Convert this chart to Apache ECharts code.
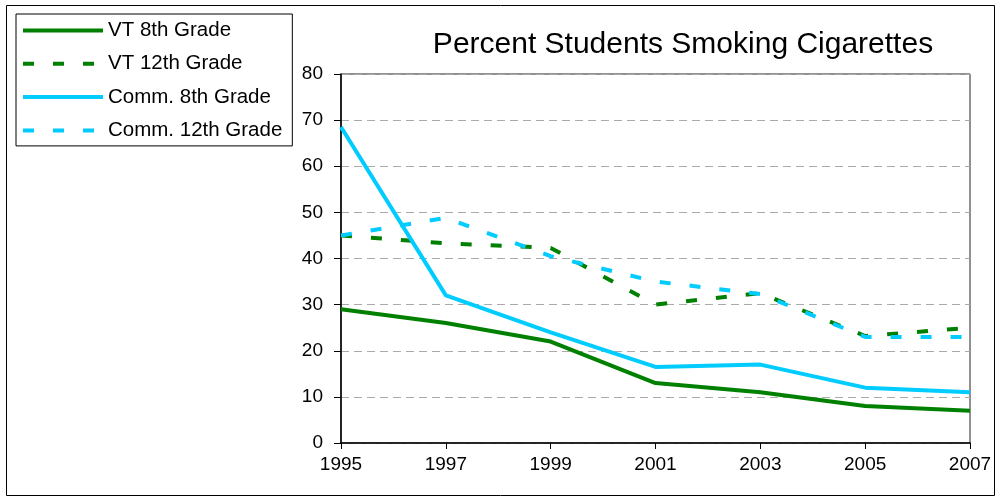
<!DOCTYPE html>
<html><head><meta charset="utf-8">
<script src="https://cdn.jsdelivr.net/npm/echarts@6/dist/echarts.min.js"></script>
<style>html,body{margin:0;padding:0;background:#fff}#c{width:1000px;height:503px}</style>
</head><body><div id="c"></div>
<script>
const years = ['1995','1997','1999','2001','2003','2005','2007'];
const vt8 = [29, 26, 22, 13, 11, 8, 7];
const vt12 = [45, 43.3, 42.3, 30, 32.5, 23.2, 25];
const comm8 = [68.5, 32, 24, 16.5, 17, 12, 11];
const comm12 = [45, 48.8, 40.5, 35, 32.3, 23, 23];
const yTicks = [0, 10, 20, 30, 40, 50, 60, 70, 80];

const green = '#008000', cyan = '#00CCFF';
const font = 'Liberation Sans, Arial, sans-serif';
function s(name, data, color, dashed) {
  return {name, type: 'line', data, symbol: 'none', smooth: false,
    lineStyle: {color, width: 4, type: dashed ? [11, 19] : 'solid', cap: 'butt'},
    itemStyle: {color}};
}
const chart = echarts.init(document.getElementById('c'), null, {renderer: 'canvas'});
chart.setOption({
  animation: false,
  textStyle: {fontFamily: font},
  title: {text: 'Percent Students Smoking Cigarettes', left: 678, top: 25, textAlign: 'center',
    textStyle: {fontSize: 30, fontWeight: 'normal', color: '#000', fontFamily: font}},
  graphic: [{type: 'rect', shape: {x: 6.5, y: 5.5, width: 988, height: 490},
    style: {fill: 'none', stroke: '#000', lineWidth: 1}, z: 100}],
  legend: {orient: 'vertical', left: 16, top: 14, itemWidth: 80, itemHeight: 20, itemGap: 12.3,
    padding: [6, 10, 5, 5], borderColor: '#000', borderWidth: 1,
    itemStyle: {opacity: 0},
    lineStyle: {width: 4},
    textStyle: {fontSize: 20.5, lineHeight: 20, color: '#000', fontFamily: font},
    data: ['VT 8th Grade', 'VT 12th Grade', 'Comm. 8th Grade', 'Comm. 12th Grade']},
  grid: {left: 341, right: 30, top: 74, bottom: 60, show: true, borderColor: '#222', borderWidth: 1},
  xAxis: {type: 'category', data: years, boundaryGap: false,
    axisLine: {lineStyle: {color: '#000', width: 1.5}},
    axisTick: {show: true, length: 6, lineStyle: {color: '#000'}},
    axisLabel: {fontSize: 19, color: '#000', margin: 12, fontFamily: font}},
  yAxis: {type: 'value', min: 0, max: 80, interval: 10,
    axisLine: {show: true, lineStyle: {color: '#000', width: 1.5}},
    axisTick: {show: true, length: 7, lineStyle: {color: '#000'}},
    axisLabel: {fontSize: 19, color: '#000', margin: 18, fontFamily: font,
      formatter: v => yTicks.includes(v) ? String(v) : ''},
    splitLine: {show: true, lineStyle: {color: '#aaa', type: [8, 5], width: 1}}},
  series: [s('VT 8th Grade', vt8, green, false), s('VT 12th Grade', vt12, green, true),
    s('Comm. 8th Grade', comm8, cyan, false), s('Comm. 12th Grade', comm12, cyan, true)]
});
</script></body></html>
